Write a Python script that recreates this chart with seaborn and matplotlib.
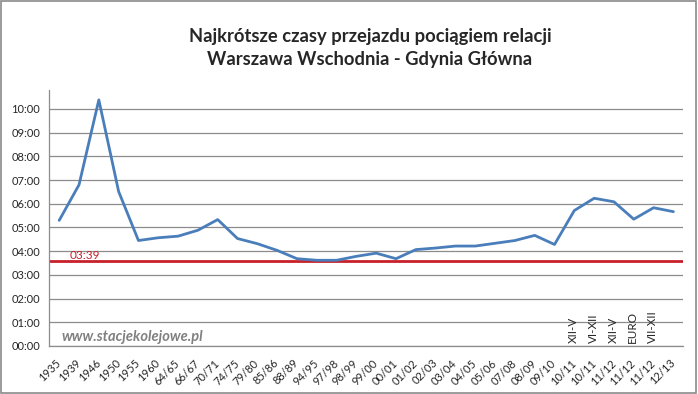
import matplotlib.pyplot as plt
import matplotlib.patches as mpatches
import numpy as np
import pandas as pd
import seaborn as sns

# ── Data ─────────────────────────────────────────────────────────────────────

PERIODS = [
    "1935", "1939", "1946", "1950", "1955", "1960", "64/65", "66/67",
    "70/71", "74/75", "79/80", "85/86", "88/89", "94/95", "97/98", "98/99",
    "99/00", "00/01", "01/02", "02/03", "03/04", "04/05", "05/06", "07/08",
    "08/09", "09/10", "10/11", "10/11", "11/12", "11/12", "11/12", "12/13",
]
# shortest travel time, H:MM
TIMES = [
    "5:18", "6:48", "10:23", "6:31", "4:27", "4:34", "4:38", "4:53",
    "5:20", "4:32", "4:19", "4:02", "3:41", "3:37", "3:37", "3:47",
    "3:55", "3:41", "4:04", "4:08", "4:13", "4:13", "4:20", "4:27",
    "4:40", "4:17", "5:43", "6:14", "6:05", "5:21", "5:50", "5:40",
]
# timetable period notes shown above the axis
NOTES = [""] * 26 + ["XII-V", "VI-XII", "XII-V", "EURO", "VII-XII", ""]

RECORD_LABEL = "03:39"
RECORD_LEVEL = 3.57  # hours, where the red reference line sits

Y_TICKS = list(range(0, 11))
TITLE = "Najkrótsze czasy przejazdu pociągiem relacji\nWarszawa Wschodnia - Gdynia Główna"
WATERMARK = "www.stacjekolejowe.pl"

LINE_COLOR = "#4a7ebb"
RED = "#c8202a"
GRID = "#8c8c8c"


def to_hours(s: str) -> float:
    h, m = s.split(":")
    return int(h) + int(m) / 60


df = pd.DataFrame({
    "pos": np.arange(len(PERIODS)),
    "hours": [to_hours(t) for t in TIMES],
})

# ── Plot ─────────────────────────────────────────────────────────────────────

sns.set_style("white")
plt.rcParams["font.family"] = ["Lato", "DejaVu Sans"]

fig = plt.figure(figsize=(6.98, 3.94), dpi=100)
ax = fig.add_axes([49.3 / 698, 48 / 394, 634 / 698, 256 / 394])

sns.lineplot(data=df, x="pos", y="hours", ax=ax, color=LINE_COLOR,
             linewidth=2.0, zorder=3)
ax.axhline(RECORD_LEVEL, color=RED, linewidth=2.0, zorder=2)
ax.text(0.55, RECORD_LEVEL + 0.03, RECORD_LABEL, color=RED, fontsize=8.5,
        ha="left", va="bottom")

ax.set_xlim(-0.5, len(PERIODS) - 0.5)
ax.set_ylim(0, 10.8)

# y axis: hourly grid
ax.set_yticks(Y_TICKS)
ax.set_yticklabels([f"{h:02d}:00" for h in Y_TICKS], fontsize=8)
ax.yaxis.grid(True, color=GRID, linewidth=0.9)
ax.tick_params(axis="y", length=3.5, width=0.9, color=GRID, pad=3)

# x axis: labels at categories, tick marks between them
ax.set_xticks(df["pos"])
ax.set_xticklabels(PERIODS, rotation=45, ha="right", va="center",
                   rotation_mode="anchor", fontsize=8)
ax.set_xticks(np.arange(-0.5, len(PERIODS)), minor=True)
ax.tick_params(axis="x", which="major", length=0, pad=11)
ax.tick_params(axis="x", which="minor", length=4, width=0.9, color=GRID)

for side in ["top", "right"]:
    ax.spines[side].set_visible(False)
for side in ["left", "bottom"]:
    ax.spines[side].set_color(GRID)
    ax.spines[side].set_linewidth(0.9)

ax.set_xlabel("")
ax.set_ylabel("")

for pos, note in enumerate(NOTES):
    if note:
        ax.text(pos - 0.05, 0.12, note, rotation=90, ha="center", va="bottom",
                fontsize=8.4)

ax.text(0.1, 0.36, WATERMARK, color="#808080", fontsize=10.5,
        fontweight="bold", fontstyle="italic", va="center", ha="left")

fig.text(370 / 698, 1 - 48 / 394, TITLE, ha="center", va="center",
         fontsize=13.2, fontweight="bold", linespacing=1.38)

fig.patches.append(mpatches.Rectangle((0.002, 0.003), 0.995, 0.994,
                                      transform=fig.transFigure,
                                      fill=False, edgecolor="#8a8a8a",
                                      linewidth=1.2))

fig.savefig("out.png", dpi=100)
